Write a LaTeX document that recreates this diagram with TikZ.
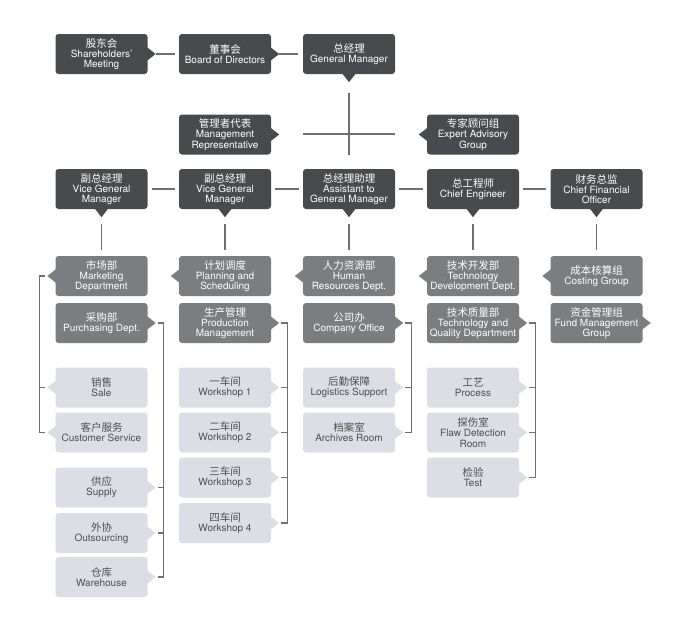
\documentclass[tikz,border=0pt]{standalone}
\usepackage{fontspec}
\setmainfont{TeX Gyre Heros}
\newfontfamily\cjk{Noto Sans CJK SC}
\usepackage{tikz}
\usetikzlibrary{positioning}

\definecolor{boxdark}{RGB}{72,74,78}
\definecolor{boxmid}{RGB}{124,125,129}
\definecolor{boxlite}{RGB}{221,222,229}
\definecolor{txtlite}{RGB}{78,78,82}
\definecolor{linegray}{RGB}{112,112,114}

\newcommand{\cn}[1]{{\cjk\fontsize{10.5}{10.2}\selectfont #1}}
% little pointers on the box sides
\newcommand{\tipR}[2]{\fill[#1] ([xshift=-1pt,yshift=7pt]#2.east) -- ([xshift=8pt]#2.east) -- ([xshift=-1pt,yshift=-7pt]#2.east) -- cycle;}
\newcommand{\tipL}[2]{\fill[#1] ([xshift=1pt,yshift=7pt]#2.west) -- ([xshift=-8pt]#2.west) -- ([xshift=1pt,yshift=-7pt]#2.west) -- cycle;}
\newcommand{\tipB}[2]{\fill[#1] ([xshift=-7pt,yshift=1pt]#2.south) -- ([yshift=-8pt]#2.south) -- ([xshift=7pt,yshift=1pt]#2.south) -- cycle;}

\tikzset{
  orgbox/.style={rounded corners=3pt, minimum width=92pt, minimum height=40pt, inner sep=1pt, align=center, font=\fontsize{10}{10.2}\selectfont},
  darkbox/.style={orgbox, fill=boxdark, text=white},
  midbox/.style={orgbox, fill=boxmid, text=white},
  litebox/.style={orgbox, fill=boxlite, text=txtlite},
  conn/.style={draw=linegray, line width=1.2pt}
}

\begin{document}
\begin{tikzpicture}[x=1pt,y=-1pt]
\useasboundingbox (0,0) rectangle (680,629);

% top
\node[darkbox] (share) at (101.5,54) {\cn{股东会}\\Shareholders'\\Meeting};
\node[darkbox] (board) at (225,54) {\cn{董事会}\\Board of Directors};
\node[darkbox] (gm) at (349,54) {\cn{总经理}\\General Manager};
\node[darkbox] (rep) at (225,134.5) {\cn{管理者代表}\\Management\\Representative};
\node[darkbox] (expert) at (473,134.5) {\cn{专家顾问组}\\Expert Advisory\\Group};

\node[darkbox] (vgm1) at (101.5,189) {\cn{副总经理}\\Vice General\\Manager};
\node[darkbox] (vgm2) at (225,189) {\cn{副总经理}\\Vice General\\Manager};
\node[darkbox] (asst) at (349,189) {\cn{总经理助理}\\Assistant to\\General Manager};
\node[darkbox] (chief) at (473,189) {\cn{总工程师}\\Chief Engineer};
\node[darkbox] (cfo) at (596.5,189) {\cn{财务总监}\\Chief Financial\\Officer};

% departments
\node[midbox] (mkt) at (101.5,276) {\cn{市场部}\\Marketing\\Department};
\node[midbox] (plan) at (225,276) {\cn{计划调度}\\Planning and\\Scheduling};
\node[midbox] (hr) at (349,276) {\cn{人力资源部}\\Human\\Resources Dept.};
\node[midbox] (techdev) at (473,276) {\cn{技术开发部}\\Technology\\Development Dept.};
\node[midbox] (cost) at (596.5,276) {\cn{成本核算组}\\Costing Group};

\node[midbox] (purch) at (101.5,323) {\cn{采购部}\\Purchasing Dept.};
\node[midbox] (prod) at (225,323) {\cn{生产管理}\\Production\\Management};
\node[midbox] (office) at (349,323) {\cn{公司办}\\Company Office};
\node[midbox] (quality) at (473,323) {\cn{技术质量部}\\Technology and\\Quality Department};
\node[midbox] (fund) at (596.5,323) {\cn{资金管理组}\\Fund Management\\Group};

% sections
\node[litebox] (sale) at (101.5,387.5) {\cn{销售}\\Sale};
\node[litebox] (serv) at (101.5,432.5) {\cn{客户服务}\\Customer Service};
\node[litebox] (supply) at (101.5,487.5) {\cn{供应}\\Supply};
\node[litebox] (outsrc) at (101.5,533) {\cn{外协}\\Outsourcing};
\node[litebox] (wareh) at (101.5,577) {\cn{仓库}\\Warehouse};

\node[litebox] (ws1) at (225,387.5) {\cn{一车间}\\Workshop 1};
\node[litebox] (ws2) at (225,432.5) {\cn{二车间}\\Workshop 2};
\node[litebox] (ws3) at (225,477.5) {\cn{三车间}\\Workshop 3};
\node[litebox] (ws4) at (225,523) {\cn{四车间}\\Workshop 4};

\node[litebox] (logist) at (349,387.5) {\cn{后勤保障}\\Logistics Support};
\node[litebox] (archive) at (349,432.5) {\cn{档案室}\\Archives Room};

\node[litebox] (process) at (473,387.5) {\cn{工艺}\\Process};
\node[litebox] (flaw) at (473,432.5) {\cn{探伤室}\\Flaw Detection\\Room};
\node[litebox] (test) at (473,477.5) {\cn{检验}\\Test};

% pointers
\foreach \n in {share,board,rep} {\tipR{boxdark}{\n}}
\tipL{boxdark}{expert}
\foreach \n in {gm,vgm1,vgm2,asst,chief,cfo} {\tipB{boxdark}{\n}}
\foreach \n in {mkt,plan,hr,techdev,cost} {\tipL{boxmid}{\n}}
\foreach \n in {purch,prod,office,quality,fund} {\tipR{boxmid}{\n}}
\foreach \n in {sale,serv} {\tipL{boxlite}{\n}}
\foreach \n in {supply,outsrc,wareh,ws1,ws2,ws3,ws4,logist,archive,process,flaw,test} {\tipR{boxlite}{\n}}

% lines
\draw[conn] ([xshift=8pt]share.east) -- ([xshift=-4pt]board.west);
\draw[conn] ([xshift=8pt]board.east) -- ([xshift=-5pt]gm.west);
\coordinate (hub) at (349,134);
\draw[conn] ([yshift=-19pt]gm.south) -- ([yshift=14pt]asst.north);
\draw[conn] (gm.west |- hub) -- (gm.east |- hub);
\foreach \a/\b in {vgm1/vgm2,vgm2/asst,asst/chief,chief/cfo}
  \draw[conn] ([xshift=4pt]\a.east) -- ([xshift=-4pt]\b.west);
\foreach \a/\b in {vgm1/mkt,vgm2/plan,asst/hr,chief/techdev,cfo/cost}
  \draw[conn] ([yshift=-15pt]\a.south) -- ([yshift=6pt]\b.north);

% brackets
\draw[conn] ([xshift=-10pt]mkt.west) -- ([xshift=-16pt]mkt.west) |- ([xshift=-10pt]serv.west);
\draw[conn] ([xshift=-10pt]sale.west) -- ([xshift=-16pt]sale.west);
\draw[conn] ([xshift=10pt]purch.east) -- ([xshift=16pt]purch.east) |- ([xshift=10pt]wareh.east);
\draw[conn] ([xshift=10pt]prod.east) -- ([xshift=16pt]prod.east) |- ([xshift=10pt]ws4.east);
\draw[conn] ([xshift=10pt]office.east) -- ([xshift=16pt]office.east) |- ([xshift=10pt]archive.east);
\draw[conn] ([xshift=10pt]quality.east) -- ([xshift=16pt]quality.east) |- ([xshift=10pt]test.east);
\foreach \n in {supply,outsrc,ws1,ws2,ws3,logist,process,flaw}
  \draw[conn] ([xshift=10pt]\n.east) -- ([xshift=16pt]\n.east);
\end{tikzpicture}
\end{document}
